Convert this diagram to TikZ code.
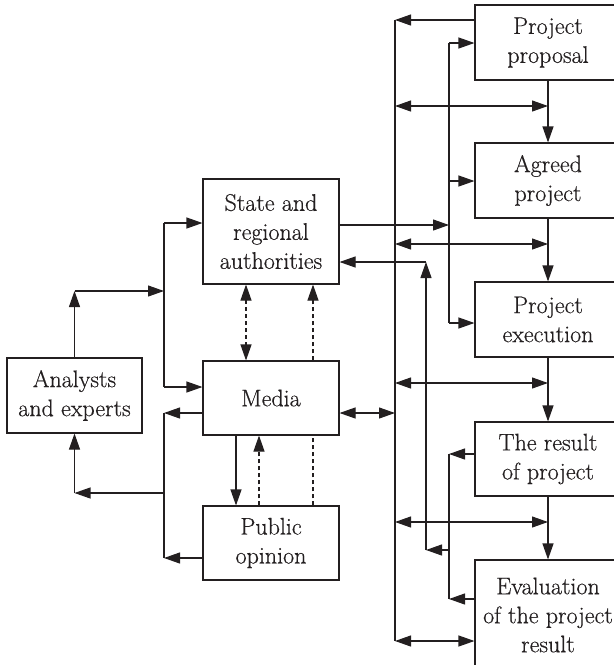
\documentclass[tikz,border=0pt]{standalone}
\usepackage{fontspec}
\usetikzlibrary{arrows.meta}
\newfontfamily\boxfont{Latin Modern Roman}[FakeBold=0.5]
\definecolor{ink}{HTML}{231F20}
\begin{document}
\begin{tikzpicture}[x=1pt,y=-1pt, line width=1.1pt, draw=ink, text=ink,
  box/.style={draw=ink, inner sep=0pt, align=center, font=\boxfont\fontsize{24}{29}\selectfont},
  arr/.style={-{Triangle[length=16pt,width=11pt]}},
  darr/.style={{Triangle[length=16pt,width=11pt]}-{Triangle[length=16pt,width=11pt]}},
  dsh/.style={dash pattern=on 4pt off 3pt}]
\useasboundingbox (0,0) rectangle (614,665);
\clip (0,0) rectangle (614,665);
% right column boxes
\node[box, minimum width=146pt, minimum height=75pt] (pp) at (548,42.5) {Project\\proposal};
\node[box, minimum width=146pt, minimum height=75pt] (ap) at (548,180.5) {Agreed\\project};
\node[box, minimum width=146pt, minimum height=75pt] (pe) at (548,319.5) {Project\\execution};
\node[box, minimum width=146pt, minimum height=74pt] (rp) at (548,459) {The result\\of project};
\node[box, minimum width=146pt, minimum height=110pt] (ev) at (548,615) {Evaluation\\of the project\\result};
% left boxes
\node[box, minimum width=136pt, minimum height=105pt] (st) at (271,231.5) {State and\\regional\\authorities};
\node[box, minimum width=136pt, minimum height=74pt] (me) at (271,398) {Media};
\node[box, minimum width=136pt, minimum height=74pt] (po) at (271,543) {Public\\opinion};
\node[box, minimum width=135pt, minimum height=75pt] (an) at (74.5,395.5) {Analysts\\and experts};
% main chain
\draw[arr] (pp.south -| 548,0) -- (ap.north -| 548,0);
\draw[arr] (ap.south -| 548,0) -- (pe.north -| 548,0);
\draw[arr] (pe.south -| 548,0) -- (rp.north -| 548,0);
\draw[arr] (rp.south -| 548,0) -- (ev.north -| 548,0);
% long bus x=395
\coordinate (L1) at (395,20);
\coordinate (L2) at (395,641);
\draw (L1) -- (L2);
\draw[arr] (pp.west |- L1) -- (L1);
\draw[darr] (395,106) -- (548,106);
\draw[darr] (395,244) -- (548,244);
\draw[darr] (395,383) -- (548,383);
\draw[darr] (395,522) -- (548,522);
\draw[darr] (L2) -- (ev.west |- L2);
\draw[darr] (me.east |- 0,413) -- (395,413);
% bus x=449 upper
\draw (449,43) -- (449,323);
\draw[arr] (449,43) -- (pp.west |- 0,43);
\draw[arr] (449,181) -- (ap.west |- 0,181);
\draw[arr] (449,323) -- (pe.west |- 0,323);
\draw[arr] (st.east |- 0,225) -- (449,225);
% bus x=449 lower and x=426
\draw (449,454) -- (449,599);
\draw[arr] (rp.west |- 0,454) -- (449,454);
\draw[arr] (ev.west |- 0,599) -- (449,599);
\draw[arr] (449,550) -- (426,550);
\draw[arr] (426,550) -- (426,262);
\draw[arr] (426,262) -- (st.east |- 0,262);
% left buses
\draw (164,223) -- (164,387);
\draw[arr] (164,223) -- (st.west |- 0,223);
\draw[arr] (164,387) -- (me.west |- 0,387);
\draw[arr] (an.north) -- (an.north |- 0,291);
\draw[arr] (an.north |- 0,291) -- (164,291);
\draw (164,413) -- (164,558);
\draw[arr] (me.west |- 0,413) -- (164,413);
\draw[arr] (po.west |- 0,558) -- (164,558);
\draw[arr] (164,493) -- (an.south |- 0,493);
\draw[arr] (an.south |- 0,493) -- (an.south);
% between left boxes
\draw[darr, dsh] (st.south -| 246,0) -- (me.north -| 246,0);
\draw[arr, dsh] (me.north -| 313,0) -- (st.south -| 313,0);
\draw[arr] (me.south -| 236,0) -- (po.north -| 236,0);
\draw[arr, dsh] (po.north -| 259,0) -- (me.south -| 259,0);
\draw[dsh] (po.north -| 313,0) -- (me.south -| 313,0);
\end{tikzpicture}
\end{document}
